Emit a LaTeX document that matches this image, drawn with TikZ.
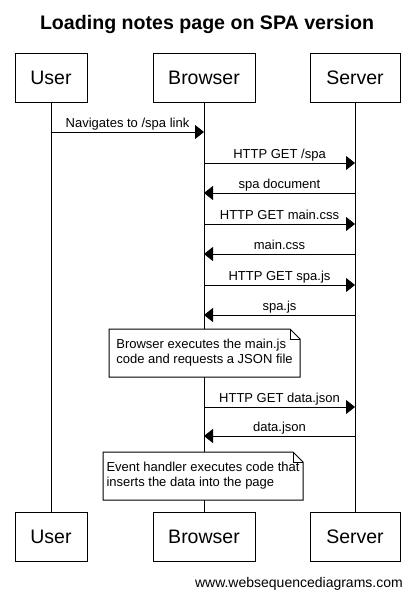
\documentclass[tikz,border=0pt]{standalone}
\usepackage{fontspec}
\setmainfont{Liberation Sans}
\usetikzlibrary{arrows.meta,calc}
\begin{document}
\begin{tikzpicture}[x=1pt,y=-1pt,
  actor/.style={draw, line width=1pt, minimum height=49pt, inner sep=0pt, font=\fontsize{19.5}{23}\selectfont},
  life/.style={line width=1pt},
  msg/.style={line width=1pt, -{Triangle[length=9pt,width=14pt]}},
  lbl/.style={anchor=base, yshift=4.5pt, inner sep=0pt, font=\fontsize{13}{15}\selectfont},
  noteshape/.style={draw, fill=white, line width=1pt},
  notefold/.style={line width=0.6pt},
  notetext/.style={align=left, inner sep=0pt, font=\fontsize{13}{15}\selectfont}]
\useasboundingbox (0,0) rectangle (414,597);
% title
\node[anchor=base, inner sep=0pt, font=\fontsize{19.6}{23}\selectfont\bfseries] (title) at (207,29) {Loading notes page on SPA version};
% actors
\node[actor, minimum width=72pt] (uTop) at (51,77.5) {User};
\node[actor, minimum width=102pt] (bTop) at (204,77.5) {Browser};
\node[actor, minimum width=90pt] (sTop) at (355,77.5) {Server};
\node[actor, minimum width=72pt] (uBot) at (51,537) {User};
\node[actor, minimum width=102pt] (bBot) at (204,537) {Browser};
\node[actor, minimum width=90pt] (sBot) at (355,537) {Server};
% lifelines
\draw[life] (uTop) -- (uBot);
\draw[life] (bTop) -- (bBot);
\draw[life] (sTop) -- (sBot);
% message levels
\coordinate (y1) at (0,132);
\coordinate (y2) at (0,163);
\coordinate (y3) at (0,193);
\coordinate (y4) at (0,224);
\coordinate (y5) at (0,254);
\coordinate (y6) at (0,285);
\coordinate (y7) at (0,315);
\coordinate (y8) at (0,407);
\coordinate (y9) at (0,436);
\draw[msg] (uTop |- y1) -- node[lbl] {Navigates to /spa link} (bTop |- y1);
\draw[msg] (bTop |- y2) -- node[lbl] {HTTP GET /spa} (sTop |- y2);
\draw[msg] (sTop |- y3) -- node[lbl] {spa document} (bTop |- y3);
\draw[msg] (bTop |- y4) -- node[lbl] {HTTP GET main.css} (sTop |- y4);
\draw[msg] (sTop |- y5) -- node[lbl] {main.css} (bTop |- y5);
\draw[msg] (bTop |- y6) -- node[lbl] {HTTP GET spa.js} (sTop |- y6);
\draw[msg] (sTop |- y7) -- node[lbl] {spa.js} (bTop |- y7);
\draw[msg] (bTop |- y8) -- node[lbl] {HTTP GET data.json} (sTop |- y8);
\draw[msg] (sTop |- y9) -- node[lbl] {data.json} (bTop |- y9);
% note 1
\coordinate (n1nw) at (109,329);
\coordinate (n1se) at (300,377);
\coordinate (n1ne) at (300,329);
\coordinate (n1sw) at (109,377);
\draw[noteshape] (n1sw) -- (n1nw) -- ([xshift=-10pt]n1ne) -- ([yshift=-10pt]n1ne) -- (n1se) -- cycle;
\draw[notefold] ([xshift=-10pt]n1ne) -- ([xshift=-10pt,yshift=-10pt]n1ne) -- ([yshift=-10pt]n1ne);
\node[notetext] (n1) at ($(n1nw)!0.5!(n1se)$) {Browser executes the main.js\\code and requests a JSON file};
% note 2
\coordinate (n2nw) at (103,452);
\coordinate (n2se) at (303,500);
\coordinate (n2ne) at (303,452);
\coordinate (n2sw) at (103,500);
\draw[noteshape] (n2sw) -- (n2nw) -- ([xshift=-10pt]n2ne) -- ([yshift=-10pt]n2ne) -- (n2se) -- cycle;
\draw[notefold] ([xshift=-10pt]n2ne) -- ([xshift=-10pt,yshift=-10pt]n2ne) -- ([yshift=-10pt]n2ne);
\node[notetext] (n2) at ($(n2nw)!0.5!(n2se)$) {Event handler executes code that\\inserts the data into the page};
% footer
\node[anchor=base east, inner sep=0pt, font=\fontsize{14}{16}\selectfont] (foot) at (403,587) {www.websequencediagrams.com};
\end{tikzpicture}
\end{document}
